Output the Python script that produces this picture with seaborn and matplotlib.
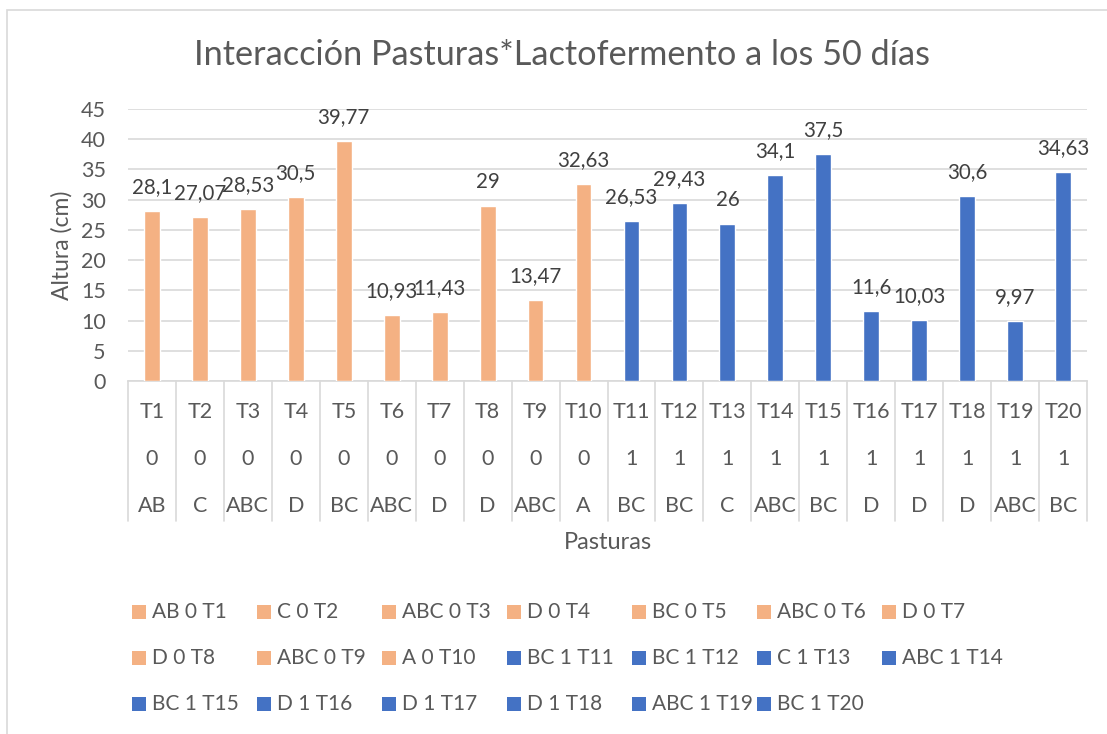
import seaborn as sns
import matplotlib.pyplot as plt
import pandas as pd
from matplotlib.patches import Rectangle

tratamientos = ['T1', 'T2', 'T3', 'T4', 'T5', 'T6', 'T7', 'T8', 'T9', 'T10',
                'T11', 'T12', 'T13', 'T14', 'T15', 'T16', 'T17', 'T18', 'T19', 'T20']
lactofermento = [0, 0, 0, 0, 0, 0, 0, 0, 0, 0,
                 1, 1, 1, 1, 1, 1, 1, 1, 1, 1]
letras = ['AB', 'C', 'ABC', 'D', 'BC', 'ABC', 'D', 'D', 'ABC', 'A',
          'BC', 'BC', 'C', 'ABC', 'BC', 'D', 'D', 'D', 'ABC', 'BC']
altura = [28.1, 27.07, 28.53, 30.5, 39.77, 10.93, 11.43, 29, 13.47, 32.63,
          26.53, 29.43, 26, 34.1, 37.5, 11.6, 10.03, 30.6, 9.97, 34.63]

colores = {0: '#F4B183', 1: '#4472C4'}
gris_texto = '#595959'
gris_linea = '#D9D9D9'

df = pd.DataFrame({'Tratamiento': tratamientos, 'Lactofermento': lactofermento,
                   'Letra': letras, 'Altura': altura})

sns.set_theme(style='white')
plt.rcParams['font.family'] = ['Lato', 'DejaVu Sans']

W, H = 1107, 734
fig = plt.figure(figsize=(W / 100, H / 100), dpi=100)
ax = fig.add_axes([128 / W, 1 - 381 / H, (1087 - 128) / W, (381 - 109) / H])

# chart border (only left and top visible in the original)
fig.add_artist(Rectangle((7 / W, -0.1), 1.2, 1.1 - 10 / H, transform=fig.transFigure,
                         fill=False, edgecolor=gris_linea, linewidth=1.2))

sns.barplot(data=df, x='Tratamiento', y='Altura', hue='Lactofermento', palette=colores,
            dodge=False, width=0.33, saturation=1, legend=False, ax=ax, zorder=3)

ax.set_ylim(0, 45)
ax.set_xlim(-0.5, len(tratamientos) - 0.5)
ax.set_yticks(range(0, 46, 5))
ax.yaxis.grid(True, color=gris_linea, linewidth=1.2)
ax.set_axisbelow(True)
for s in ['left', 'right', 'top']:
    ax.spines[s].set_visible(False)
ax.spines['bottom'].set_color(gris_linea)
ax.spines['bottom'].set_linewidth(1.2)
ax.tick_params(axis='y', length=0, pad=16, labelsize=15.5, labelcolor=gris_texto)
ax.set_xticks([])
ax.set_xlabel('')
ax.set_ylabel('Altura (cm)', fontsize=16.5, color=gris_texto, labelpad=6)

# value labels
for cont in ax.containers:
    etiquetas = []
    for v in cont.datavalues:
        etiquetas.append('' if pd.isna(v) else f'{v:g}'.replace('.', ','))
    ax.bar_label(cont, labels=etiquetas, padding=10, fontsize=14.8, color='#404040')

# multi-level category axis
tr = ax.get_xaxis_transform()
for i, (t, l, le) in enumerate(zip(tratamientos, lactofermento, letras)):
    ax.text(i, -0.114, t, transform=tr, ha='center', va='center', fontsize=15.5, color=gris_texto)
    ax.text(i, -0.287, str(l), transform=tr, ha='center', va='center', fontsize=15.5, color=gris_texto)
    ax.text(i, -0.46, le, transform=tr, ha='center', va='center', fontsize=15.5, color=gris_texto)
for b in range(len(tratamientos) + 1):
    ax.plot([b - 0.5, b - 0.5], [0, -0.515], transform=tr, color=gris_linea,
            linewidth=1.2, clip_on=False)
ax.text(0.5, -0.592, 'Pasturas', transform=ax.transAxes, ha='center', va='center',
        fontsize=17, color=gris_texto)

fig.text(562 / W, 1 - 55 / H, 'Interacción Pasturas*Lactofermento a los 50 días',
         ha='center', va='center', fontsize=24.7, color=gris_texto)

# legend laid out row by row like the original
for i, (t, l, le) in enumerate(zip(tratamientos, lactofermento, letras)):
    fila, col = divmod(i, 7)
    x0 = 132 + 125 * col
    y0 = 612 + 46 * fila
    fig.add_artist(Rectangle((x0 / W, 1 - (y0 + 7) / H), 14 / W, 14 / H,
                             transform=fig.transFigure, color=colores[l], linewidth=0))
    fig.text((x0 + 20) / W, 1 - y0 / H, f'{le} {l} {t}', ha='left', va='center',
             fontsize=15, color=gris_texto)

fig.savefig('out.png', dpi=100)
